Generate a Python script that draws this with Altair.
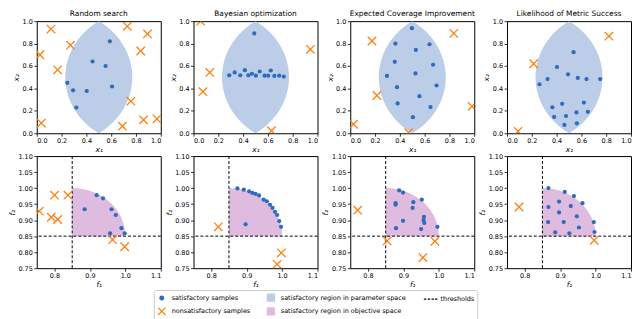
import altair as alt
import numpy as np
import pandas as pd

titles = ["Random search", "Bayesian optimization",
          "Expected Coverage Improvement", "Likelihood of Metric Success"]

# ---------------- Random search ----------------
rs_sat_x1 = [0.589, 0.45, 0.555, 0.246, 0.293, 0.403, 0.607, 0.319]
rs_sat_x2 = [0.82, 0.64, 0.60, 0.45, 0.383, 0.377, 0.417, 0.229]
rs_non_x1 = [0.115, 0.73, 0.893, 0.272, 0.026, 0.838, 0.168, 0.759, 0.037, 0.691, 0.861, 0.969]
rs_non_x2 = [0.929, 0.954, 0.886, 0.786, 0.70, 0.734, 0.566, 0.286, 0.091, 0.063, 0.12, 0.129]
rs_sat_f1 = [0.885, 0.919, 0.937, 0.961, 0.973, 0.957, 0.989, 0.998]
rs_sat_f2 = [0.934, 0.978, 0.968, 0.934, 0.916, 0.859, 0.875, 0.859]
rs_non_f1 = [0.80, 0.838, 0.757, 0.791, 0.809, 0.964, 0.998]
rs_non_f2 = [0.978, 0.978, 0.928, 0.909, 0.902, 0.839, 0.817]

# ---------------- Bayesian optimization ----------------
bo_sat_x1 = [0.49, 0.288, 0.332, 0.377, 0.414, 0.442, 0.471, 0.503, 0.534, 0.573, 0.602, 0.623, 0.652, 0.691, 0.728]
bo_sat_x2 = [0.891, 0.517, 0.543, 0.517, 0.563, 0.517, 0.531, 0.514, 0.551, 0.514, 0.514, 0.56, 0.511, 0.514, 0.506]
bo_non_x1 = [0.058, 0.131, 0.076, 0.942, 0.628]
bo_non_x2 = [1.0, 0.543, 0.371, 0.749, 0.023]
bo_sat_f1 = [0.874, 0.892, 0.907, 0.916, 0.925, 0.935, 0.948, 0.957, 0.966, 0.973, 0.980, 0.986, 0.992, 0.997, 0.897]
bo_sat_f2 = [0.999, 0.995, 0.990, 0.985, 0.982, 0.977, 0.964, 0.959, 0.948, 0.938, 0.926, 0.916, 0.897, 0.879, 0.887]
bo_non_f1 = [0.82, 0.998, 0.986]
bo_non_f2 = [0.879, 0.798, 0.762]

# ---------------- Expected Coverage Improvement ----------------
eci_sat_x1 = [0.497, 0.364, 0.639, 0.529, 0.359, 0.668, 0.526, 0.296, 0.377, 0.696, 0.558, 0.382, 0.647, 0.505]
eci_sat_x2 = [0.937, 0.80, 0.794, 0.743, 0.637, 0.611, 0.534, 0.511, 0.411, 0.426, 0.331, 0.266, 0.234, 0.143]
eci_non_x1 = [0.175, 0.835, 0.215, 0.982, 0.026, 0.471]
eci_non_x2 = [0.823, 0.891, 0.337, 0.24, 0.08, 0.006]
eci_sat_f1 = [0.888, 0.899, 0.878, 0.878, 0.928, 0.952, 0.926, 0.899, 0.958, 0.957, 0.959, 0.879, 0.95, 0.996]
eci_sat_f2 = [0.993, 0.986, 0.953, 0.948, 0.956, 0.964, 0.938, 0.898, 0.910, 0.900, 0.891, 0.875, 0.872, 0.879]
eci_non_f1 = [0.771, 0.854, 0.989, 0.955]
eci_non_f2 = [0.931, 0.835, 0.834, 0.783]

# ---------------- Likelihood of Metric Success ----------------
lms_sat_x1 = [0.537, 0.403, 0.492, 0.327, 0.571, 0.641, 0.751, 0.262, 0.366, 0.445, 0.62, 0.38, 0.476, 0.56, 0.652, 0.463, 0.563]
lms_sat_x2 = [0.723, 0.591, 0.526, 0.483, 0.494, 0.483, 0.483, 0.437, 0.231, 0.263, 0.274, 0.146, 0.154, 0.186, 0.191, 0.074, 0.089]
lms_non_x1 = [0.215, 0.822, 0.089]
lms_non_x2 = [0.62, 0.866, 0.017]
lms_sat_f1 = [0.867, 0.913, 0.939, 0.897, 0.963, 0.867, 0.93, 0.897, 0.947, 0.866, 0.91, 0.995, 0.953, 0.886, 0.926, 0.997]
lms_sat_f2 = [1.0, 0.988, 0.975, 0.958, 0.953, 0.941, 0.944, 0.924, 0.912, 0.894, 0.894, 0.894, 0.877, 0.862, 0.859, 0.863]
lms_non_f1 = [0.784, 0.996]
lms_non_f2 = [0.941, 0.837]

threshold = 0.85
# satisfactory regions (lens in parameter space, quarter disk in objective space)
lens_offset, lens_radius = 0.328, 0.598
disk_center, disk_radius = 0.85, 0.15

legend_labels = ["satisfactory samples", "nonsatisfactory samples",
                 "satisfactory region in parameter space", "satisfactory region in objective space",
                 "thresholds"]

BLUE = "#2c6bbd"
ORANGE = "#ff7f0e"
LENS = "#bccde8"
PINK = "#dfbcdf"
XPATH = "M-1,-1L1,1M-1,1L1,-1"
DASHPATH = "M-1.7,0L-1.1,0M-0.73,0L-0.13,0M0.23,0L0.83,0M1.1,0L1.7,0"
FONT = "DejaVu Sans"
W, H = 125, 113

ys = np.linspace(0, 1, 201)
half = np.sqrt(lens_radius ** 2 - (ys - 0.5) ** 2) - lens_offset
lens_df = pd.DataFrame({"y": ys, "xl": 0.5 - half, "xr": 0.5 + half})
fs = np.linspace(disk_center, disk_center + disk_radius, 201)
disk_df = pd.DataFrame({"f1": fs, "top": disk_center + np.sqrt(np.clip(disk_radius ** 2 - (fs - disk_center) ** 2, 0, None)),
                        "base": disk_center})
thr_df = pd.DataFrame({"t": [threshold]})


def axes(kind):
    if kind == "x":
        xs = alt.Scale(domain=[0, 1], nice=False, zero=False)
        ax = alt.Axis(values=[0, 0.2, 0.4, 0.6, 0.8, 1.0], format=".1f", title="x₁")
        ay = alt.Axis(values=[0, 0.2, 0.4, 0.6, 0.8, 1.0], format=".1f", title="x₂")
        return xs, xs, ax, ay
    xs = alt.Scale(domain=[0.75, 1.1], nice=False, zero=False)
    ysc = alt.Scale(domain=[0.75, 1.1], nice=False, zero=False)
    ax = alt.Axis(values=[0.8, 0.9, 1.0, 1.1], format=".1f", title="f₁")
    ay = alt.Axis(values=[0.75, 0.8, 0.85, 0.9, 0.95, 1.0, 1.05, 1.1], format=".2f", title="f₂")
    return xs, ysc, ax, ay


def samples(sx, sy, nx, ny, xs, ysc, ax, ay):
    sat = alt.Chart(pd.DataFrame({"a": sx, "b": sy})).mark_point(
        filled=True, shape="circle", size=18, color=BLUE, opacity=1, clip=True
    ).encode(x=alt.X("a:Q", scale=xs, axis=ax), y=alt.Y("b:Q", scale=ysc, axis=ay))
    non = alt.Chart(pd.DataFrame({"a": nx, "b": ny})).mark_point(
        filled=False, shape=XPATH, size=72, stroke=ORANGE, strokeWidth=1.3, opacity=1, clip=True
    ).encode(x=alt.X("a:Q", scale=xs, axis=ax), y=alt.Y("b:Q", scale=ysc, axis=ay))
    return sat, non


def param_panel(title, sx, sy, nx, ny):
    xs, ysc, ax, ay = axes("x")
    region = alt.Chart(lens_df).mark_area(orient="horizontal", color=LENS, opacity=1, clip=True).encode(
        y=alt.Y("y:Q", scale=ysc, axis=ay), x=alt.X("xl:Q", scale=xs, axis=ax), x2="xr:Q")
    sat, non = samples(sx, sy, nx, ny, xs, ysc, ax, ay)
    return alt.layer(region, sat, non).properties(width=W, height=H, title=title)


def legend_layer():
    lg = alt.Legend(title=None, orient="none", legendX=118, legendY=271, columns=3,
                    strokeColor="#cccccc", fillColor="white", padding=3, cornerRadius=2,
                    labelFontSize=6.5, labelFont=FONT, labelColor="black", labelOffset=5,
                    columnPadding=14, rowPadding=1, symbolStrokeWidth=1.2, symbolOpacity=1)
    dom = legend_labels
    return alt.Chart(pd.DataFrame({"item": legend_labels})).mark_point(filled=True, opacity=0).encode(
        fill=alt.Fill("item:N", scale=alt.Scale(domain=dom, range=[BLUE, "transparent", LENS, PINK, "transparent"]), legend=lg),
        stroke=alt.Stroke("item:N", scale=alt.Scale(domain=dom, range=[BLUE, ORANGE, LENS, PINK, "black"]), legend=lg),
        shape=alt.Shape("item:N", scale=alt.Scale(domain=dom, range=["circle", XPATH, "square", "square", DASHPATH]), legend=lg),
        size=alt.Size("item:N", scale=alt.Scale(type="ordinal", domain=dom, range=[14, 56, 50, 50, 64]), legend=lg),
    )


def obj_panel(sx, sy, nx, ny, with_legend=False):
    xs, ysc, ax, ay = axes("f")
    region = alt.Chart(disk_df).mark_area(color=PINK, opacity=1, clip=True).encode(
        x=alt.X("f1:Q", scale=xs, axis=ax), y=alt.Y("top:Q", scale=ysc, axis=ay), y2="base:Q")
    vline = alt.Chart(thr_df).mark_rule(color="black", strokeDash=[3, 2], strokeWidth=1).encode(
        x=alt.X("t:Q", scale=xs, axis=ax))
    hline = alt.Chart(thr_df).mark_rule(color="black", strokeDash=[3, 2], strokeWidth=1).encode(
        y=alt.Y("t:Q", scale=ysc, axis=ay))
    sat, non = samples(sx, sy, nx, ny, xs, ysc, ax, ay)
    layers = [region, vline, hline, sat, non]
    if with_legend:
        layers.append(legend_layer())
    return alt.layer(*layers).properties(width=W, height=H)


top = [
    param_panel(titles[0], rs_sat_x1, rs_sat_x2, rs_non_x1, rs_non_x2),
    param_panel(titles[1], bo_sat_x1, bo_sat_x2, bo_non_x1, bo_non_x2),
    param_panel(titles[2], eci_sat_x1, eci_sat_x2, eci_non_x1, eci_non_x2),
    param_panel(titles[3], lms_sat_x1, lms_sat_x2, lms_non_x1, lms_non_x2),
]
bottom = [
    obj_panel(rs_sat_f1, rs_sat_f2, rs_non_f1, rs_non_f2, with_legend=True),
    obj_panel(bo_sat_f1, bo_sat_f2, bo_non_f1, bo_non_f2),
    obj_panel(eci_sat_f1, eci_sat_f2, eci_non_f1, eci_non_f2),
    obj_panel(lms_sat_f1, lms_sat_f2, lms_non_f1, lms_non_f2),
]

chart = alt.concat(*top, *bottom, columns=4, spacing={"row": 23, "column": 33}, bounds="flush").properties(
    padding=0
).configure_view(stroke="black", strokeWidth=1).configure_axis(
    grid=False, domain=False, tickColor="black", tickSize=3, tickWidth=0.8,
    labelFont=FONT, labelFontSize=6.5, labelColor="black", labelPadding=1.5,
    titleFont=FONT, titleFontSize=7.5, titleFontStyle="italic", titleFontWeight="normal",
    titleColor="black", titlePadding=1.5,
).configure_title(font=FONT, fontSize=7.5, fontWeight="normal", color="black", offset=1)

chart.save("out.html", embed_options={"renderer": "svg", "actions": False})
